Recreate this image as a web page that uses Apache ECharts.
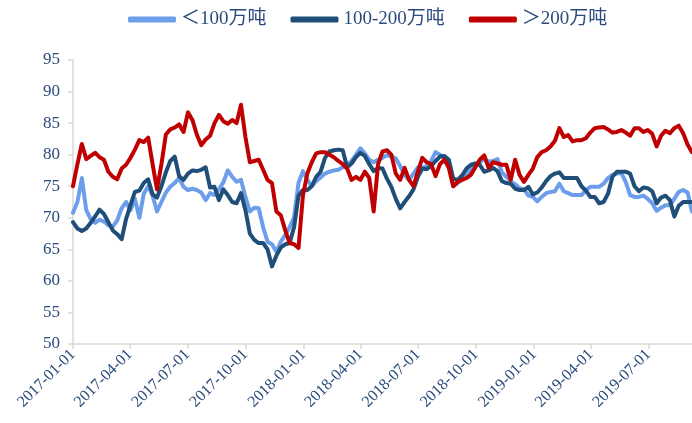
<!DOCTYPE html>
<html>
<head>
<meta charset="utf-8">
<script src="https://cdn.jsdelivr.net/npm/echarts@6/dist/echarts.min.js"></script>
<style>
  html, body { margin: 0; padding: 0; background: #fff; }
  #chart { width: 692px; height: 423px; }
</style>
</head>
<body>
<div id="chart"></div>
<script>
// weekly readings, first week 2017-01-01
const startDate = '2017-01-01';
const weekCount = 141;

const seriesNames = ['＜100万吨', '100-200万吨', '＞200万吨'];

const small = [
  70.8, 72.5, 76.3, 71.2, 69.8, 69.2, 69.7, 69.4, 68.8, 68.6,
  69.6, 71.5, 72.5, 71.2, 73.0, 70.0, 73.8, 75.0, 73.5, 71.0,
  72.5, 74.0, 74.9, 75.5, 76.3, 74.9, 74.4, 74.6, 74.4, 74.0,
  72.8, 73.9, 73.6, 74.5, 75.6, 77.5, 76.5, 75.7, 76.0, 73.3,
  71.0, 71.6, 71.5, 68.5, 66.2, 65.8, 64.6, 66.2, 67.3, 68.5,
  70.1, 75.5, 77.4, 76.0, 75.0, 75.8, 76.4, 77.0, 77.3, 77.5,
  77.6, 78.0, 78.4, 79.0, 80.0, 81.0, 80.2, 79.2, 78.8, 79.2,
  79.5, 79.9, 79.7, 79.4, 78.2, 76.8, 76.0, 77.0, 78.0, 77.9,
  78.2, 79.0, 80.4, 80.0, 79.4, 78.8, 75.0, 75.5, 76.1, 76.7,
  77.6, 78.5, 78.8, 79.3, 78.9, 79.0, 79.3, 77.2, 76.5, 75.8,
  75.3, 74.7, 74.5, 73.5, 73.3, 72.6, 73.3, 73.9, 74.1, 74.2,
  75.4, 74.2, 73.9, 73.6, 73.6, 73.6, 74.4, 74.9, 74.9, 74.9,
  75.4, 76.3, 76.8, 77.0, 77.1, 75.7, 73.6, 73.3, 73.3, 73.5,
  73.0, 72.3, 71.1, 71.6, 72.0, 72.0, 73.0, 74.1, 74.4, 74.0,
  71.0
];

const medium = [
  69.3, 68.3, 67.9, 68.3, 69.2, 70.2, 71.3, 70.6, 69.3, 68.0,
  67.4, 66.6, 69.8, 72.0, 74.1, 74.3, 75.5, 76.1, 73.7, 73.2,
  75.0, 77.2, 79.0, 79.7, 76.6, 76.0, 77.0, 77.5, 77.4, 77.6,
  78.0, 74.8, 74.9, 72.8, 74.5, 73.6, 72.5, 72.3, 73.9, 71.2,
  67.5, 66.5, 66.0, 66.0, 65.0, 62.3, 64.0, 65.3, 65.8, 66.0,
  68.5, 73.5, 74.4, 74.4, 75.0, 76.5, 77.3, 79.5, 80.5, 80.7,
  80.8, 80.7, 78.0, 78.6, 79.6, 80.3, 79.8, 78.5, 77.4, 77.9,
  77.8, 76.2, 74.9, 73.0, 71.5, 72.5, 73.4, 74.5, 76.5, 77.8,
  77.7, 78.2, 79.0, 79.7, 79.8, 79.2, 76.2, 76.0, 76.7, 77.8,
  78.4, 78.6, 78.4, 77.3, 77.5, 77.9, 77.4, 75.8, 75.5, 75.4,
  74.6, 74.4, 74.4, 74.9, 73.7, 74.0, 74.8, 75.8, 76.6, 77.0,
  77.2, 76.3, 76.3, 76.3, 76.3, 75.0, 74.3, 73.3, 73.3, 72.3,
  72.5, 73.8, 76.5, 77.3, 77.3, 77.3, 77.0, 75.0, 74.2, 74.8,
  74.7, 74.2, 72.3, 73.2, 73.5, 72.8, 70.2, 71.9, 72.5, 72.5,
  72.5
];

const large = [
  75.0, 78.5, 81.7, 79.3, 79.8, 80.3, 79.6, 79.2, 77.3, 76.5,
  76.1, 77.8, 78.4, 79.5, 80.8, 82.3, 82.0, 82.7, 78.5, 74.5,
  78.5, 83.2, 84.0, 84.3, 84.8, 83.6, 86.7, 85.5, 83.2, 81.5,
  82.4, 83.0, 85.0, 86.3, 85.3, 84.9, 85.5, 85.0, 87.9, 82.8,
  78.8, 79.0, 79.2, 77.6, 76.0, 75.5, 71.0, 70.4, 68.0, 66.0,
  65.8, 65.2, 73.5, 77.0, 78.8, 80.2, 80.4, 80.4, 80.0, 79.6,
  79.0, 78.5, 77.8, 76.0, 76.5, 76.0, 77.3, 76.3, 71.0, 78.5,
  80.5, 80.7, 80.0, 77.0, 76.0, 77.9, 76.0, 75.0, 77.3, 79.5,
  78.8, 78.5, 76.6, 78.5, 79.2, 77.9, 75.0, 75.7, 76.0, 76.3,
  76.8, 78.0, 79.2, 79.9, 77.9, 78.8, 78.6, 78.4, 78.4, 76.0,
  79.2, 76.8, 75.7, 76.8, 77.8, 79.6, 80.4, 80.7, 81.3, 82.2,
  84.2, 82.8, 83.1, 82.1, 82.3, 82.3, 82.6, 83.5, 84.2, 84.3,
  84.4, 84.0, 83.5, 83.6, 83.9, 83.5, 83.0, 84.2, 84.2, 83.6,
  83.9, 83.3, 81.3, 83.0, 83.8, 83.4, 84.2, 84.6, 83.4, 81.6,
  80.4
];

const quarterLabels = [
  '2017-01-01', '2017-04-01', '2017-07-01', '2017-10-01',
  '2018-01-01', '2018-04-01', '2018-07-01', '2018-10-01',
  '2019-01-01', '2019-04-01', '2019-07-01'
];

const yMin = 50, yMax = 95, yStep = 5;

const DAY = 86400000;
const t0 = Date.parse(startDate);
const weeks = [];
for (let i = 0; i < weekCount; i++) weeks.push(t0 + i * 7 * DAY);
const quarterTicks = quarterLabels.map(d => Date.parse(d));

function pairs(vals) {
  return vals.map((v, i) => [weeks[i], v]);
}
function fmt(ts) {
  const d = new Date(ts);
  const m = String(d.getUTCMonth() + 1).padStart(2, '0');
  const dd = String(d.getUTCDate()).padStart(2, '0');
  return d.getUTCFullYear() + '-' + m + '-' + dd;
}

const textColor = '#2A4B7C';
const axisGray = '#D9D9D9';
const font = '"Liberation Serif", "Times New Roman", "Noto Sans CJK SC", serif';
const colors = ['#6D9EEB', '#1F4E79', '#C00000'];

let chart = echarts.init(document.getElementById('chart'));
chart.setOption({
  animation: false,
  color: colors,
  legend: {
    top: 5,
    left: 123,
    itemWidth: 48,
    itemHeight: 6,
    itemGap: 24,
    icon: 'roundRect',
    textStyle: { color: textColor, fontFamily: font, fontSize: 19 },
    data: seriesNames
  },
  grid: {
    left: 73,
    right: 0,
    top: 60,
    bottom: 79
  },
  xAxis: {
    type: 'value',
    min: weeks[0],
    max: weeks[weekCount - 1],
    splitLine: { show: false },
    axisLine: { lineStyle: { color: axisGray, width: 1.5 } },
    axisTick: {
      show: true,
      length: 5,
      customValues: quarterTicks,
      lineStyle: { color: axisGray, width: 1.5 }
    },
    axisLabel: {
      customValues: quarterTicks,
      rotate: 45,
      color: textColor,
      fontFamily: font,
      fontSize: 16,
      margin: 8,
      formatter: fmt
    }
  },
  yAxis: {
    type: 'value',
    min: yMin,
    max: yMax,
    interval: yStep,
    splitLine: { show: false },
    axisLine: { show: true, lineStyle: { color: axisGray, width: 1.5 } },
    axisTick: { show: true, length: 5, lineStyle: { color: axisGray, width: 1.5 } },
    axisLabel: {
      color: textColor,
      fontFamily: font,
      fontSize: 17,
      margin: 13
    }
  },
  series: [
    { name: seriesNames[0], data: pairs(small) },
    { name: seriesNames[1], data: pairs(medium) },
    { name: seriesNames[2], data: pairs(large) }
  ].map(s => Object.assign(s, {
    type: 'line',
    showSymbol: false,
    lineStyle: { width: 4, join: 'round', cap: 'round' }
  }))
});
</script>
</body>
</html>
